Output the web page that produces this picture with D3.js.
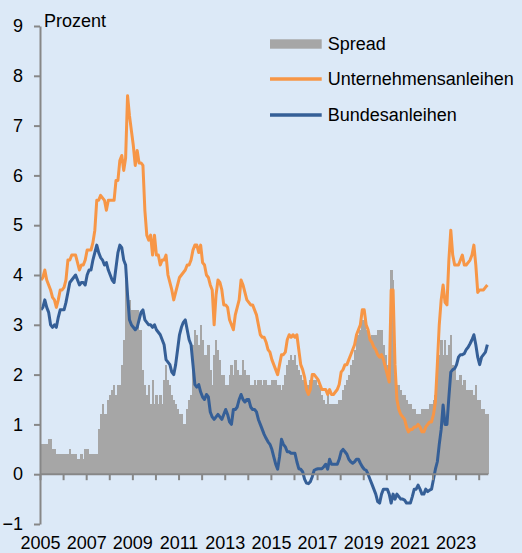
<!DOCTYPE html>
<html><head><meta charset="utf-8">
<script src="https://cdn.jsdelivr.net/npm/d3@7"></script>
<style>
html,body{margin:0;padding:0;background:#dce9f7;}
svg{display:block;}
text{font-family:"Liberation Sans",Arial,sans-serif;fill:#000;}
</style></head>
<body>
<svg id="c" width="522" height="553"></svg>
<script>
// Monthly data, Jan 2005 .. May 2024
const startYear = 2005;
const yTicks = [-1,0,1,2,3,4,5,6,7,8,9];
const xTickYears = d3.range(2005, 2025);
const seriesNames = ["Spread","Unternehmensanleihen","Bundesanleihen"];

const corporate = [
3.9,3.95,4.1,3.9,3.8,3.7,3.55,3.5,3.35,3.5,3.7,3.7,
3.75,3.9,4.3,4.3,4.4,4.4,4.4,4.25,4.1,4.2,4.2,4.3,
4.5,4.5,4.5,4.65,4.9,5.5,5.5,5.6,5.55,5.5,5.3,5.5,
5.5,5.5,5.5,5.9,5.9,6.3,6.4,6.1,6.35,7.6,7.2,6.9,
6.6,6.2,6.5,6.25,6.25,6.2,5.3,4.8,4.7,4.8,4.4,4.8,
4.4,4.4,4.2,4.3,4.3,4.4,4.0,3.85,3.7,3.5,3.65,3.8,
3.95,4.0,4.05,4.1,4.2,4.2,4.3,4.5,4.6,4.6,4.45,4.6,
4.25,4.2,4.0,3.95,3.8,3.7,3.0,3.6,3.9,3.85,3.7,3.4,
3.4,3.35,3.1,3.0,2.9,3.2,3.35,3.5,3.9,3.8,3.65,3.5,
3.45,3.4,3.4,3.3,3.2,3.0,2.8,2.75,2.75,2.65,2.5,2.45,
2.3,2.2,2.1,2.0,2.2,2.4,2.4,2.45,2.7,2.8,2.75,2.8,
2.75,2.8,2.5,2.2,2.1,1.95,1.7,1.6,1.7,2.0,2.0,1.95,
1.9,1.8,1.7,1.7,1.7,1.6,1.7,1.6,1.6,1.65,1.7,1.8,
2.05,2.1,2.2,2.2,2.3,2.4,2.5,2.6,2.8,2.9,3.0,3.3,
3.3,3.0,2.9,2.7,2.65,2.55,2.5,2.4,2.35,2.4,2.3,2.15,
2.0,1.85,3.7,3.7,2.2,1.5,1.3,1.2,1.15,1.1,0.95,0.85,
0.9,0.9,0.95,0.95,1.0,0.95,0.85,0.85,0.95,1.0,1.05,1.05,
1.2,1.45,2.2,3.0,3.5,3.8,3.45,3.4,4.3,4.9,4.4,4.2,
4.2,4.2,4.3,4.4,4.2,4.2,4.25,4.3,4.4,4.6,4.2,3.65,
3.7,3.7,3.7,3.75,3.8
];

const bund = [
3.3,3.35,3.5,3.35,3.25,3.0,2.95,3.0,2.95,3.15,3.3,3.3,
3.3,3.45,3.65,3.85,3.9,3.95,4.0,3.9,3.8,3.85,3.85,3.8,
4.0,4.1,4.1,4.3,4.45,4.6,4.45,4.35,4.3,4.2,4.25,4.1,
4.0,3.9,3.85,4.15,4.45,4.6,4.55,4.3,4.2,3.6,3.1,3.0,
2.95,2.9,2.95,3.1,3.25,3.3,3.1,3.05,3.0,3.0,2.95,3.0,
2.9,2.85,2.8,2.7,2.6,2.3,2.25,2.2,2.05,2.0,2.2,2.5,
2.8,2.95,3.05,3.1,2.9,2.7,2.6,2.2,1.8,1.75,1.8,1.65,
1.55,1.5,1.6,1.55,1.25,1.15,1.1,1.15,1.2,1.15,1.1,1.2,
1.3,1.2,1.05,1.0,1.3,1.3,1.35,1.5,1.6,1.5,1.45,1.5,
1.5,1.35,1.3,1.3,1.25,1.1,1.0,0.9,0.8,0.72,0.65,0.6,
0.5,0.35,0.2,0.1,0.35,0.7,0.6,0.55,0.45,0.45,0.42,0.42,
0.42,0.25,0.11,0.1,0.05,-0.1,-0.18,-0.19,-0.15,-0.05,0.08,0.1,
0.11,0.11,0.11,0.15,0.2,0.1,0.3,0.2,0.2,0.2,0.2,0.3,
0.45,0.5,0.45,0.4,0.3,0.25,0.22,0.25,0.3,0.3,0.22,0.15,
0.1,0.08,0.0,-0.1,-0.2,-0.3,-0.4,-0.55,-0.58,-0.4,-0.3,-0.3,
-0.3,-0.4,-0.58,-0.4,-0.5,-0.4,-0.45,-0.5,-0.5,-0.52,-0.58,-0.58,
-0.58,-0.45,-0.3,-0.3,-0.22,-0.3,-0.4,-0.4,-0.3,-0.35,-0.32,-0.3,
-0.1,0.1,0.25,0.6,0.9,1.39,1.0,1.0,1.55,2.05,2.1,2.12,
2.2,2.35,2.4,2.4,2.42,2.5,2.55,2.62,2.7,2.8,2.6,2.35,
2.2,2.35,2.4,2.45,2.6
];

const spread = [
0.6,0.6,0.6,0.6,0.7,0.7,0.5,0.5,0.4,0.4,0.4,0.4,
0.4,0.4,0.4,0.5,0.4,0.4,0.4,0.3,0.3,0.4,0.3,0.5,
0.5,0.4,0.4,0.4,0.4,0.4,0.9,1.2,1.4,1.2,1.2,1.5,
1.6,1.7,1.8,1.6,1.8,1.8,2.2,2.7,3.9,3.6,3.5,3.3,
3.3,3.3,3.3,2.9,2.9,2.1,1.8,1.6,1.8,1.4,1.9,1.4,
1.6,1.4,1.6,1.4,1.9,2.2,1.9,1.8,1.6,1.5,1.4,1.3,
1.2,1.2,1.0,1.0,1.3,1.5,1.6,2.6,2.9,2.8,2.6,3.0,
2.7,2.4,2.4,2.6,2.1,1.8,2.4,2.7,2.5,2.3,2.0,2.0,
1.8,1.8,2.0,2.2,2.0,2.3,2.1,2.0,2.0,2.3,2.1,2.0,
2.0,1.8,1.8,1.9,1.8,1.9,1.9,1.8,1.9,1.9,1.8,1.8,
1.9,1.9,1.9,1.8,1.8,1.7,1.8,2.0,2.2,2.3,2.4,2.3,
2.4,2.2,2.1,2.0,1.9,1.9,1.8,1.8,1.9,1.9,1.9,1.9,
1.8,1.8,1.6,1.5,1.4,1.6,1.4,1.4,1.4,1.4,1.4,1.5,
1.5,1.7,1.8,1.9,2.0,2.2,2.3,2.5,2.7,2.8,2.9,3.1,
3.1,2.9,2.8,2.7,2.8,2.8,2.8,2.9,2.9,2.9,2.6,2.4,
2.2,2.0,4.1,3.9,2.0,1.8,1.8,1.7,1.6,1.6,1.5,1.4,
1.4,1.3,1.3,1.2,1.2,1.2,1.3,1.3,1.3,1.3,1.4,1.4,
1.5,1.6,2.1,2.4,2.7,2.4,2.7,2.4,2.6,2.8,2.2,2.1,
1.9,1.9,2.0,1.8,1.9,1.7,1.7,1.7,1.7,1.6,1.8,1.5,
1.5,1.3,1.3,1.2,1.2
];

const colors = {spread:"#a6a6a6", corp:"#f79646", bund:"#355f97", axis:"#878787"};

const svg = d3.select("#c");
const x = d3.scaleLinear().domain([0, 228]).range([40, 478.7]);
const y = d3.scaleLinear().domain([-1, 9]).range([524, 26]);
const n = spread.length;

// bars
svg.append("g").selectAll("rect").data(spread).join("rect")
  .attr("x", (d,i) => x(i))
  .attr("width", (d,i) => x(i+1) - x(i) + 0.4)
  .attr("y", d => Math.min(y(d), y(0)))
  .attr("height", d => Math.abs(y(0) - y(d)))
  .attr("fill", colors.spread)
  .attr("shape-rendering", "crispEdges");

// lines
const line = d3.line().x((d,i) => x(i + 0.5)).y(d => y(d)).curve(d3.curveLinear);
svg.append("path").datum(corporate).attr("d", line)
  .attr("fill","none").attr("stroke",colors.corp).attr("stroke-width",3).attr("stroke-linejoin","round");
svg.append("path").datum(bund).attr("d", line)
  .attr("fill","none").attr("stroke",colors.bund).attr("stroke-width",3).attr("stroke-linejoin","round");

// y axis
const yAxis = svg.append("g").attr("transform","translate(40,0)")
  .call(d3.axisLeft(y).tickValues(yTicks).tickSize(6).tickSizeOuter(0).tickPadding(11).tickFormat(d3.format("d")));
yAxis.select(".domain").attr("stroke",colors.axis).attr("stroke-width",2);
yAxis.selectAll(".tick line").attr("stroke",colors.axis).attr("stroke-width",2);
yAxis.selectAll("text").style("font-size","18px").attr("fill","#000").attr("font-family",null);

// x axis
const xAxis = svg.append("g").attr("transform",`translate(0,${y(0)})`)
  .call(d3.axisBottom(x).tickValues(xTickYears.map(yr => (yr - startYear) * 12))
    .tickSize(6).tickSizeOuter(0).tickPadding(56)
    .tickFormat(d => { const yr = startYear + d/12; return yr % 2 === 1 ? String(yr) : ""; }));
xAxis.select(".domain").remove();
xAxis.append("line").attr("x1", x(0)).attr("x2", x(n)).attr("y1",0).attr("y2",0)
  .attr("stroke",colors.axis).attr("stroke-width",2);
xAxis.selectAll(".tick line").attr("stroke",colors.axis).attr("stroke-width",2);
xAxis.selectAll("text").style("font-size","18px").attr("fill","#000").attr("font-family",null);

// unit label
svg.append("text").attr("x",44).attr("y",27).style("font-size","18px").text("Prozent");

// legend
const lg = svg.append("g");
lg.append("rect").attr("x",270).attr("y",39.3).attr("width",51.7).attr("height",9.4).attr("fill",colors.spread);
lg.append("line").attr("x1",270).attr("x2",321.7).attr("y1",79).attr("y2",79).attr("stroke",colors.corp).attr("stroke-width",3.5);
lg.append("line").attr("x1",270).attr("x2",321.7).attr("y1",115).attr("y2",115).attr("stroke",colors.bund).attr("stroke-width",3.5);
[[seriesNames[0],50],[seriesNames[1],85],[seriesNames[2],120.5]].forEach(([t,yy]) => {
  lg.append("text").attr("x",327.7).attr("y",yy).style("font-size","18px").text(t);
});
</script>
</body></html>
